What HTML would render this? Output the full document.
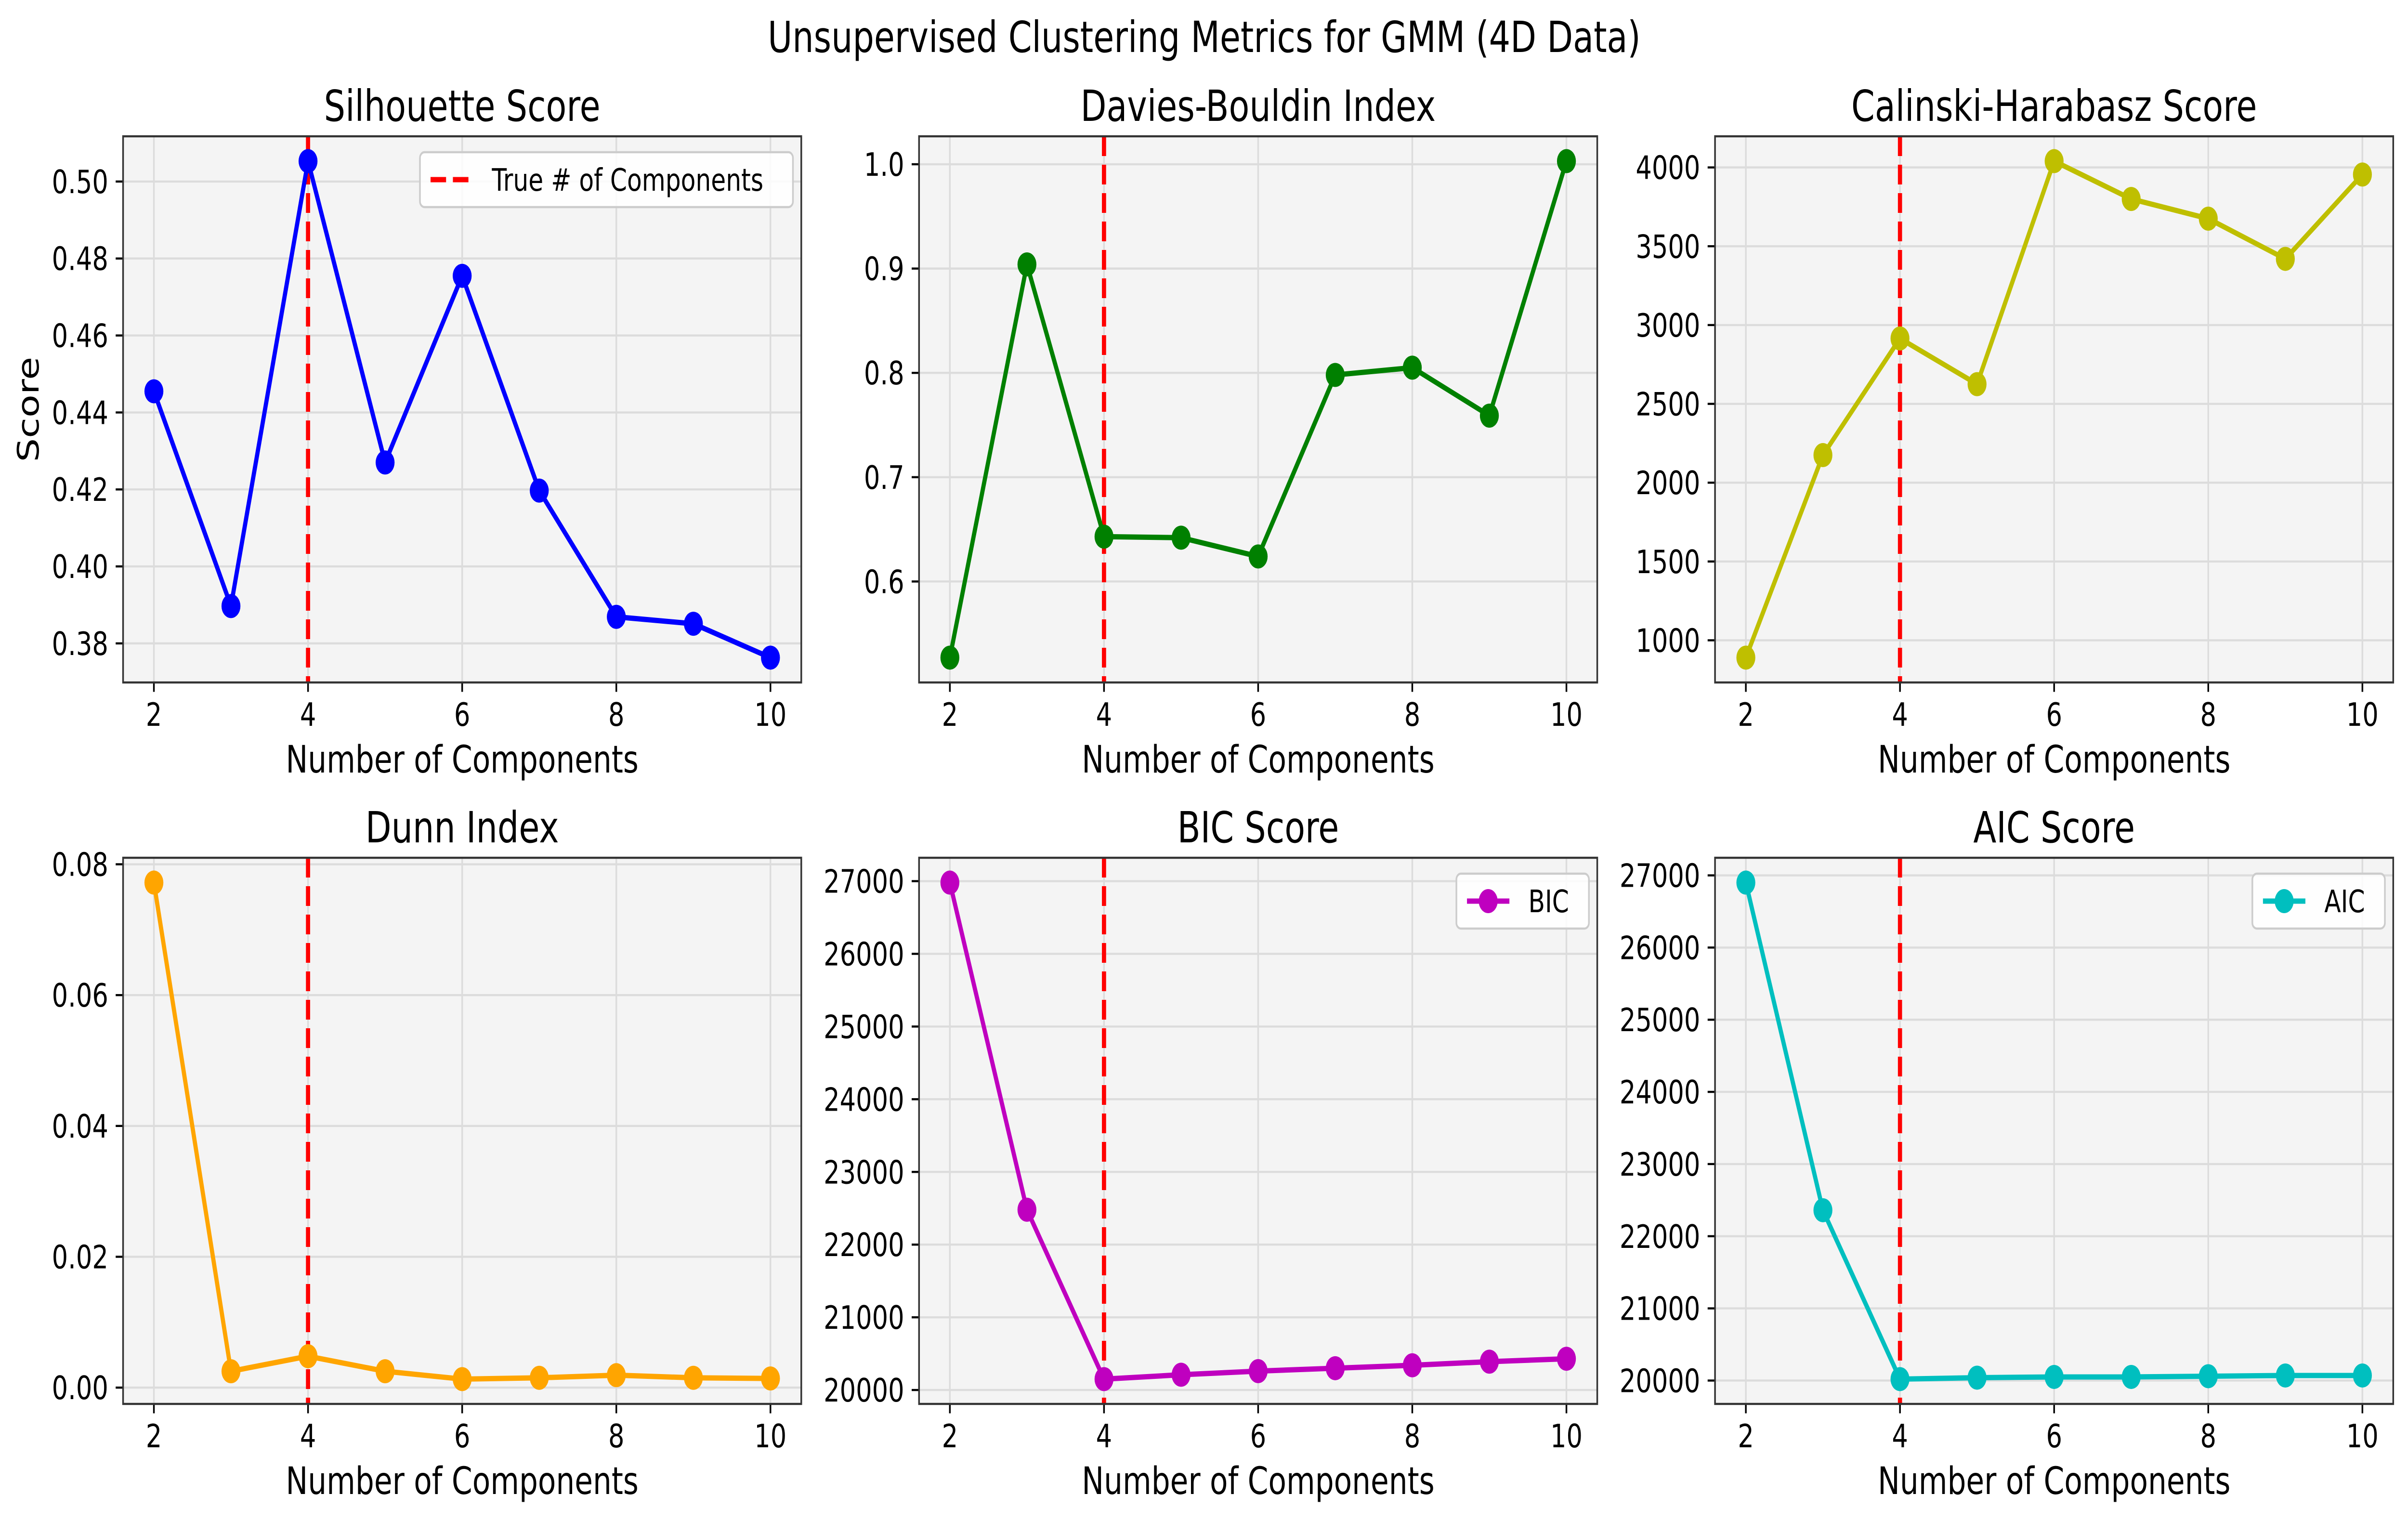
<!DOCTYPE html>
<html><head><meta charset="utf-8"><style>
html,body{margin:0;padding:0;background:#fff;overflow:hidden;width:100%;height:100%;}
svg{display:block;width:100vw;height:100vh;font-family:"DejaVu Sans","Liberation Sans",sans-serif;}
</style></head><body>
<svg id="fig" viewBox="0 0 6359 3156" preserveAspectRatio="none" xmlns="http://www.w3.org/2000/svg">
<rect width="6359" height="3156" fill="#fff"/>
<text x="3180" y="108" font-size="89" text-anchor="middle">Unsupervised Clustering Metrics for GMM (4D Data)</text>
</svg>
<script>
const components = [2,3,4,5,6,7,8,9,10];
const xTicks = [2,4,6,8,10];
const trueComponents = 4;
const silhouetteValues = [0.4455,0.3897,0.5053,0.4270,0.4755,0.4197,0.3869,0.3851,0.3763];
const daviesValues = [0.527,0.904,0.643,0.642,0.624,0.798,0.805,0.759,1.003];
const calinskiValues = [890,2175,2915,2625,4040,3800,3675,3420,3955];
const dunnValues = [0.0772,0.0025,0.0048,0.0025,0.0013,0.0015,0.0019,0.0015,0.0014];
const bicValues = [26980,22480,20150,20210,20260,20300,20340,20390,20430];
const aicValues = [26900,22360,20020,20040,20050,20050,20060,20070,20070];
const silhouetteTicks = [0.38,0.40,0.42,0.44,0.46,0.48,0.50];
const daviesTicks = [0.6,0.7,0.8,0.9,1.0];
const calinskiTicks = [1000,1500,2000,2500,3000,3500,4000];
const dunnTicks = [0.00,0.02,0.04,0.06,0.08];
const bicTicks = [20000,21000,22000,23000,24000,25000,26000,27000];
const aicTicks = [20000,21000,22000,23000,24000,25000,26000,27000];

const NS="http://www.w3.org/2000/svg";
const svg=document.getElementById('fig');
function mk(tag,attrs,parent){const e=document.createElementNS(NS,tag);for(const k in attrs)e.setAttribute(k,attrs[k]);(parent||svg).appendChild(e);return e;}

const panels=[
 {title:'Silhouette Score',vals:silhouetteValues,ticks:silhouetteTicks,dec:2,color:'#0000ff',col:0,row:0,ylabel:'Score',legend:'true',key:'silhouette'},
 {title:'Davies-Bouldin Index',vals:daviesValues,ticks:daviesTicks,dec:1,color:'#008000',col:1,row:0,key:'davies-bouldin'},
 {title:'Calinski-Harabasz Score',vals:calinskiValues,ticks:calinskiTicks,dec:0,color:'#bfbf00',col:2,row:0,key:'calinski-harabasz'},
 {title:'Dunn Index',vals:dunnValues,ticks:dunnTicks,dec:2,color:'#ffa500',col:0,row:1,key:'dunn'},
 {title:'BIC Score',vals:bicValues,ticks:bicTicks,dec:0,color:'#bf00bf',col:1,row:1,legend:'BIC',key:'bic'},
 {title:'AIC Score',vals:aicValues,ticks:aicTicks,dec:0,color:'#00bfbf',col:2,row:1,legend:'AIC',key:'aic'}
];
const lefts=[325,2427,4529], W=1791;
const tops=[283,1781], H=1134;

panels.forEach(p=>{
 const L=lefts[p.col],T=tops[p.row],R=L+W,B=T+H;
 const g=mk('g',{});
 
 
 const mn=Math.min(...p.vals),mx=Math.max(...p.vals),pad=(mx-mn)*0.05;
 const y0=mn-pad,y1=mx+pad;
 const xs=v=>L+(v-1.6)/8.8*W;
 const ys=v=>B-(v-y0)/(y1-y0)*H;
 const bg=mk('rect',{x:L,y:T,width:W,height:H,fill:'#f4f4f4'},g);
 
 
 xTicks.forEach(t=>{
  const x=xs(t);
  const gl=mk('line',{x1:x,x2:x,y1:T,y2:B,stroke:'#dcdcdc','stroke-width':4.4},g);
  
  
  mk('line',{x1:x,x2:x,y1:B,y2:B+19.5,stroke:'#000','stroke-width':4.4},g);
  const tl=mk('text',{x:x,y:B+90,'font-size':67,'text-anchor':'middle'},g);
  tl.textContent=String(t);
  
  
 });
 p.ticks.forEach(t=>{
  const y=ys(t);
  const gl=mk('line',{x1:L,x2:R,y1:y,y2:y,stroke:'#dcdcdc','stroke-width':4.4},g);
  
  
  mk('line',{x1:L-19.5,x2:L,y1:y,y2:y,stroke:'#000','stroke-width':4.4},g);
  const tl=mk('text',{x:L-39,y:y+24,'font-size':67,'text-anchor':'end'},g);
  tl.textContent=t.toFixed(p.dec);
  
  
 });
 const vx=xs(trueComponents);
 const vl=mk('line',{x1:vx,x2:vx,y1:T,y2:B,stroke:'#ff0000','stroke-width':11,'stroke-dasharray':'41 18'},g);
 
 
 const pts=components.map((c,i)=>xs(c)+','+ys(p.vals[i])).join(' ');
 const pl=mk('polyline',{points:pts,fill:'none',stroke:p.color,'stroke-width':11,'stroke-linejoin':'round'},g);
 
 
 components.forEach((c,i)=>{
  const m=mk('circle',{cx:xs(c),cy:ys(p.vals[i]),r:25,fill:p.color},g);
  
  
 });
 const fr=mk('rect',{x:L,y:T,width:W,height:H,fill:'none',stroke:'#333','stroke-width':4.4},g);
 
 
 const ti=mk('text',{x:L+W/2,y:T-32,'font-size':89,'text-anchor':'middle'},g);
 ti.textContent=p.title;
 
 
 const xl=mk('text',{x:L+W/2,y:B+187,'font-size':78,'text-anchor':'middle'},g);
 xl.textContent='Number of Components';
 
 
 if(p.ylabel){
  const yl=mk('text',{x:0,y:0,'font-size':78,'text-anchor':'middle',transform:'translate(102,'+(T+H/2)+') rotate(-90)'},g);
  yl.textContent=p.ylabel;
  
  
 }
 if(p.legend){
  const lg=mk('g',{},g);
  
  
  let lw,label;
  if(p.legend==='true'){lw=985;label='True # of Components';}else{lw=350;label=p.legend;}
  const lx=R-22-lw, ly=T+33, lh=114;
  mk('rect',{x:lx,y:ly,width:lw,height:lh,rx:12,fill:'#fff','fill-opacity':0.85,stroke:'#cccccc','stroke-width':4.4},lg);
  const sx1=lx+28,sx2=lx+140,sy=ly+lh/2;
  if(p.legend==='true'){
   mk('line',{x1:sx1,x2:sx2,y1:sy,y2:sy,stroke:'#ff0000','stroke-width':11,'stroke-dasharray':'41 18'},lg);
  }else{
   mk('line',{x1:sx1,x2:sx2,y1:sy,y2:sy,stroke:p.color,'stroke-width':11},lg);
   mk('circle',{cx:(sx1+sx2)/2,cy:sy,r:25,fill:p.color},lg);
  }
  const lt=mk('text',{x:sx2+50,y:sy+23,'font-size':64},lg);
  lt.textContent=label;
  
  
 }
});
</script>
</body></html>
